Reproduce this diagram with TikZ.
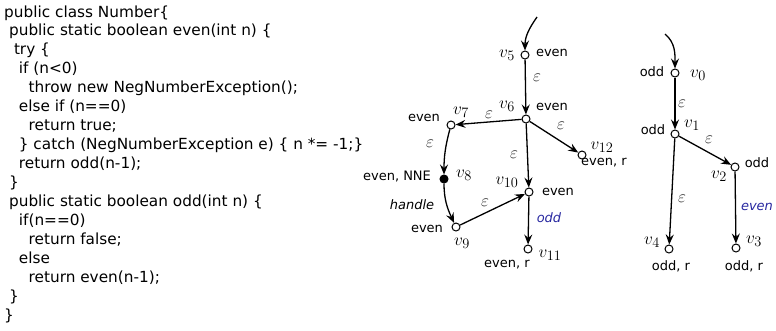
\documentclass[tikz,border=0pt]{standalone}
\usepackage[no-math]{fontspec}
\setmainfont{DejaVu Sans}
\usetikzlibrary{arrows.meta}
\definecolor{lblblue}{RGB}{40,40,160}
\tikzset{
  st/.style={circle,draw,fill=white,inner sep=0pt,minimum size=8pt,line width=1pt},
  stf/.style={st,fill=black},
  arr/.style={line width=1.3pt,-{Stealth[length=10pt,width=8pt,inset=3.5pt]}},
  code/.style={anchor=base west,inner sep=0pt,font=\fontsize{15.3}{18}\selectfont},
  lbl/.style={inner sep=0pt,font=\fontsize{13}{15}\selectfont},
  vl/.style={inner sep=0pt,font=\fontsize{19}{22}\selectfont},
  eps/.style={inner sep=0pt,font=\fontsize{16}{19}\selectfont,text=black!85},
  call/.style={inner sep=0pt,font=\fontsize{13}{15}\selectfont\itshape},
}
\begin{document}
\begin{tikzpicture}[x=1pt,y=-1pt]
\useasboundingbox (0,0) rectangle (776,330);
% code
\def\sp{4.9}
\node[code] (c1) at (4+0*\sp,17) {public class Number\{};
\node[code] (c2) at (4+1*\sp,35.94) {public static boolean even(int n) \{};
\node[code] (c3) at (4+2*\sp,54.88) {try \{};
\node[code] (c4) at (4+3*\sp,73.82) {if (n<0)};
\node[code] (c5) at (4+5*\sp,92.76) {throw new NegNumberException();};
\node[code] (c6) at (4+3*\sp,111.7) {else if (n==0)};
\node[code] (c7) at (4+5*\sp,130.64) {return true;};
\node[code] (c8) at (4+3*\sp,149.58) {\} catch (NegNumberException e) \{ n *= -1;\}};
\node[code] (c9) at (4+3*\sp,168.52) {return odd(n-1);};
\node[code] (c10) at (4+1*\sp,187.46) {\}};
\node[code] (c11) at (4+1*\sp,206.4) {public static boolean odd(int n) \{};
\node[code] (c12) at (4+3*\sp,225.34) {if(n==0)};
\node[code] (c13) at (4+5*\sp,244.28) {return false;};
\node[code] (c14) at (4+3*\sp,263.22) {else};
\node[code] (c15) at (4+5*\sp,282.16) {return even(n-1);};
\node[code] (c16) at (4+1*\sp,301.1) {\}};
\node[code] (c17) at (4+0*\sp,320.04) {\}};

% even graph
\coordinate (s5) at (537,17);
\node[st] (v5) at (525,55) {};
\node[st] (v6) at (526,119) {};
\node[st] (v7) at (451,125) {};
\node[stf] (v8) at (444,179) {};
\node[st] (v9) at (456,227) {};
\node[st] (v10) at (529,192) {};
\node[st] (v11) at (528,249) {};
\node[st] (v12) at (582,155) {};

\draw[arr] (s5) to[out=-125,in=90] (v5);
\draw[arr] (v5) -- (v6);
\draw[arr] (v6) -- (v7);
\draw[arr] (v6) -- (v12);
\draw[arr] (v6) -- (v10);
\draw[arr] (v7) to[out=-105,in=90] (v8);
\draw[arr] (v8) to[out=-90,in=115] (v9);
\draw[arr] (v9) -- (v10);
\draw[arr] (v10) -- (v11);

\node[eps] (e56) at (537,78) {$\varepsilon$};
\node[eps] (e67) at (489,115) {$\varepsilon$};
\node[eps] (e612) at (561,126) {$\varepsilon$};
\node[eps] (e610) at (514,155) {$\varepsilon$};
\node[eps] (e78) at (430,144) {$\varepsilon$};
\node[eps] (e910) at (485,203) {$\varepsilon$};
\node[call] (h89) at (412,205) {handle};
\node[call,text=lblblue] (o1011) at (549,218) {odd};

\node[vl] (l5) at (507,55) {$v_5$};
\node[lbl] (t5) at (552,53) {even};
\node[vl] (l6) at (507,106) {$v_6$};
\node[lbl] (t6) at (552,107) {even};
\node[vl] (l7) at (461,112) {$v_7$};
\node[lbl] (t7) at (424,118) {even};
\node[vl] (l8) at (464,175) {$v_8$};
\node[lbl] (t8) at (397,177) {even, NNE};
\node[lbl] (t9) at (427,229) {even};
\node[vl] (l9) at (462,243) {$v_9$};
\node[vl] (l10) at (507,182) {$v_{10}$};
\node[lbl] (t10) at (558,192) {even};
\node[vl] (l11) at (550,255) {$v_{11}$};
\node[lbl] (t11) at (507,265) {even, r};
\node[vl] (l12) at (602,147) {$v_{12}$};
\node[lbl] (t12) at (604,163) {even, r};

% odd graph
\coordinate (s0) at (665,34);
\node[st] (v0) at (675,73) {};
\node[st] (v1) at (675,134) {};
\node[st] (v2) at (735,167) {};
\node[st] (v3) at (736,248) {};
\node[st] (v4) at (669,249) {};

\draw[arr] (s0) to[out=-40,in=90] (v0);
\draw[arr] (v0) -- (v1);
\draw[arr] (v1) -- (v2);
\draw[arr] (v1) -- (v4);
\draw[arr] (v2) -- (v3);

\node[eps] (e01) at (682,104) {$\varepsilon$};
\node[eps] (e12) at (709,140) {$\varepsilon$};
\node[eps] (e14) at (682,199) {$\varepsilon$};
\node[call,text=lblblue] (ev23) at (757,207) {even};

\node[lbl] (t0) at (652,72) {odd};
\node[vl] (l0) at (698,75) {$v_0$};
\node[lbl] (t1) at (653,130) {odd};
\node[vl] (l1) at (692,125) {$v_1$};
\node[lbl] (t2) at (757,163) {odd};
\node[vl] (l2) at (719,176) {$v_2$};
\node[vl] (l3) at (754,241) {$v_3$};
\node[lbl] (t3) at (744,266) {odd, r};
\node[vl] (l4) at (652,242) {$v_4$};
\node[lbl] (t4) at (671,266) {odd, r};
\end{tikzpicture}
\end{document}
